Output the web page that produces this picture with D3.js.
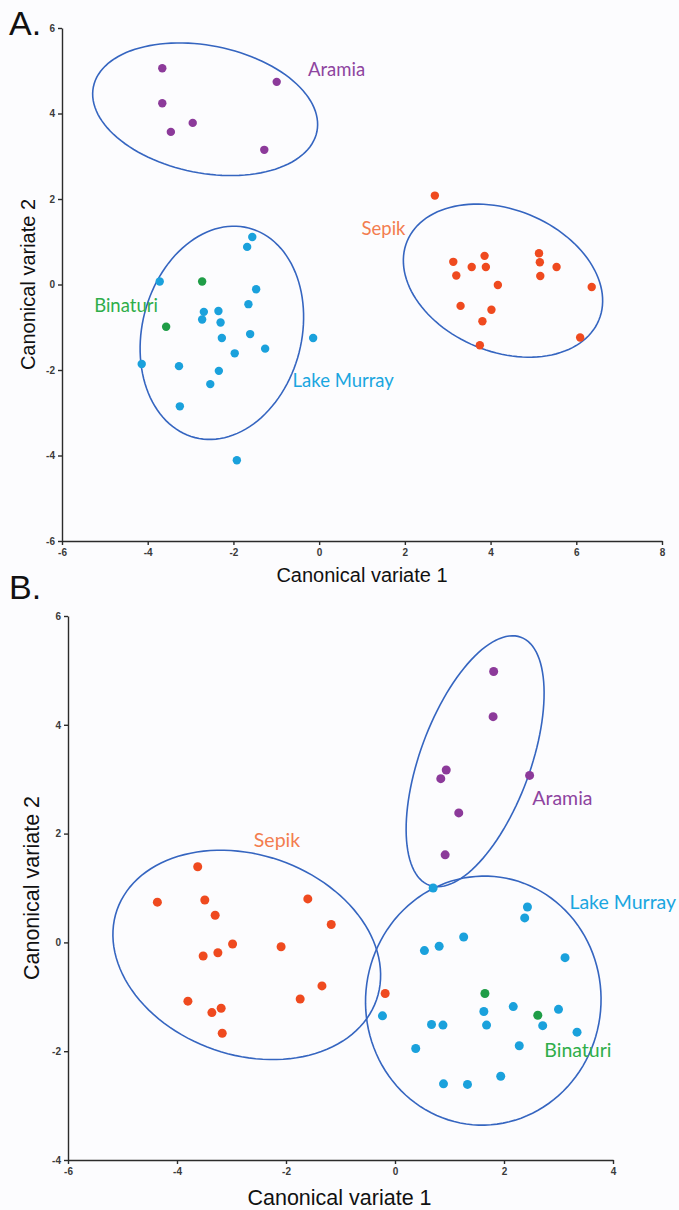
<!DOCTYPE html>
<html>
<head>
<meta charset="utf-8">
<script src="https://cdn.jsdelivr.net/npm/d3@7"></script>
<style>
  body { margin: 0; background: #fcfcfe; }
  .axis path, .axis line { stroke: #2b2b2b; stroke-width: 1.4; }
  .axis text { font-family: "Liberation Sans", Arial, sans-serif; font-size: 10px; font-weight: bold; fill: #3a3a3a; }
  .title { font-family: "Liberation Sans", Arial, sans-serif; fill: #111; }
  .group-label { font-family: Lato, "Open Sans", sans-serif; }
</style>
</head>
<body>
<div id="chart"></div>
<script>
// group colours
const groups = ['Aramia', 'Sepik', 'Lake Murray', 'Binaturi'];
const dotColors = ['#8c3a9a', '#ef4a1f', '#1aa1dc', '#1f9d47'];
const labelColors = ['#8e44a0', '#f37d4f', '#1aa6e0', '#2fae4a'];

// panel A scores (canonical variate 1, canonical variate 2)
const aramiaA = [[-3.66, 5.06], [-0.99, 4.74], [-3.66, 4.24], [-2.95, 3.78], [-3.46, 3.57], [-1.28, 3.15]];
const sepikA = [[2.70, 2.08], [3.13, 0.53], [3.20, 0.21], [3.56, 0.41], [3.86, 0.67], [3.89, 0.41],
  [4.17, -0.01], [5.13, 0.73], [5.15, 0.52], [5.16, 0.20], [5.54, 0.41], [6.36, -0.06],
  [3.30, -0.50], [4.02, -0.59], [3.81, -0.86], [3.75, -1.42], [6.09, -1.24]];
const lakeMurrayA = [[-1.56, 1.11], [-1.68, 0.88], [-3.72, 0.07], [-1.47, -0.11], [-1.65, -0.46],
  [-2.69, -0.64], [-2.35, -0.62], [-2.73, -0.82], [-2.30, -0.89], [-2.27, -1.25], [-1.61, -1.16],
  [-0.14, -1.25], [-1.26, -1.50], [-1.97, -1.61], [-4.14, -1.86], [-3.27, -1.91], [-2.34, -2.02],
  [-2.54, -2.33], [-3.25, -2.85], [-1.92, -4.11]];
const binaturiA = [[-2.73, 0.07], [-3.57, -0.99]];

// panel B scores
const aramiaB = [[1.81, 4.98], [1.80, 4.15], [0.94, 3.17], [0.84, 3.01], [2.47, 3.07], [1.17, 2.38], [0.92, 1.61]];
const sepikB = [[-4.36, 0.74], [-3.49, 0.78], [-3.30, 0.50], [-1.60, 0.80], [-1.17, 0.33], [-2.98, -0.03],
  [-3.52, -0.25], [-3.25, -0.19], [-2.09, -0.08], [-1.34, -0.80], [-1.74, -1.04], [-3.80, -1.08],
  [-3.36, -1.29], [-3.19, -1.21], [-3.17, -1.67], [-3.62, 1.39], [-0.18, -0.94]];
const lakeMurrayB = [[0.70, 1.00], [2.43, 0.65], [2.38, 0.45], [1.26, 0.10], [0.81, -0.07], [0.54, -0.15],
  [3.12, -0.28], [-0.23, -1.35], [1.63, -1.27], [2.17, -1.18], [3.00, -1.23], [0.67, -1.51],
  [0.88, -1.52], [1.68, -1.52], [2.71, -1.53], [3.34, -1.65], [0.38, -1.95], [2.28, -1.90],
  [1.94, -2.46], [0.89, -2.60], [1.33, -2.61]];
const binaturiB = [[1.65, -0.94], [2.62, -1.34]];

// confidence ellipses: centre x, centre y, semi-axis a, semi-axis b, rotation (deg)
const ellipsesA = [[-2.66, 4.10, 2.66, 1.49, -11.3], [4.29, 0.09, 2.42, 1.66, -22.4], [-2.27, -1.13, 2.53, 1.86, 75.7]];
const ellipsesB = [[1.47, 3.33, 2.43, 1.01, 69.8], [-2.72, -0.23, 2.52, 1.84, -19.1], [1.62, -1.07, 2.29, 2.16, 85]];

// group label anchors (data units)
const labelsA = [[-0.26, 4.88], [0.99, 1.16], [-0.62, -2.39], [-5.25, -0.65]];
const labelsB = [[2.52, 2.53], [-2.59, 1.76], [3.20, 0.61], [2.74, -2.10]];

const xTicksA = [-6, -4, -2, 0, 2, 4, 6, 8];
const yTicksA = [-6, -4, -2, 0, 2, 4, 6];
const xTicksB = [-6, -4, -2, 0, 2, 4];
const yTicksB = [-4, -2, 0, 2, 4, 6];

const width = 679;
const height = 1210;

const svg = d3.select('#chart')
  .append('svg')
  .attr('width', width)
  .attr('height', height);

function drawPanel(p) {
  const x = d3.scaleLinear().domain(d3.extent(p.xTicks)).range([p.left, p.right]);
  const y = d3.scaleLinear().domain(d3.extent(p.yTicks)).range([p.bottom, p.top]);
  const g = svg.append('g');
  const plain = (d) => String(d); // hyphen minus, like the original

  // axes
  g.append('g')
    .attr('class', 'axis')
    .attr('transform', `translate(0, ${p.bottom})`)
    .call(d3.axisBottom(x).tickValues(p.xTicks).tickFormat(plain).tickSize(4).tickSizeOuter(0).tickPadding(4));
  g.append('g')
    .attr('class', 'axis')
    .attr('transform', `translate(${p.left}, 0)`)
    .call(d3.axisLeft(y).tickValues(p.yTicks).tickFormat(plain).tickSize(4).tickSizeOuter(0).tickPadding(3));

  // ellipses
  const line = d3.line();
  const steps = d3.range(0, 361, 3).map((deg) => deg * Math.PI / 180);
  p.ellipses.forEach(([cx, cy, a, b, rot]) => {
    const r = rot * Math.PI / 180;
    const pts = steps.map((t) => {
      const ex = cx + a * Math.cos(r) * Math.cos(t) - b * Math.sin(r) * Math.sin(t);
      const ey = cy + a * Math.sin(r) * Math.cos(t) + b * Math.cos(r) * Math.sin(t);
      return [x(ex), y(ey)];
    });
    g.append('path')
      .attr('d', line(pts))
      .attr('fill', 'none')
      .attr('stroke', '#3565c0')
      .attr('stroke-width', 1.6);
  });

  // points
  p.series.forEach((pts, i) => {
    g.append('g')
      .selectAll('circle')
      .data(pts)
      .join('circle')
      .attr('cx', (d) => x(d[0]))
      .attr('cy', (d) => y(d[1]))
      .attr('r', p.r)
      .attr('fill', dotColors[i]);
  });

  // group names
  g.selectAll('text.group-label')
    .data(p.labels)
    .join('text')
    .attr('class', 'group-label')
    .attr('x', (d) => x(d[0]))
    .attr('y', (d) => y(d[1]))
    .attr('font-size', p.labelSize)
    .attr('fill', (d, i) => labelColors[i])
    .text((d, i) => groups[i]);

  // titles
  g.append('text')
    .attr('class', 'title')
    .attr('x', (p.left + p.right) / 2 + p.xTitleShift)
    .attr('y', p.bottom + p.xTitleGap)
    .attr('text-anchor', 'middle')
    .attr('font-size', p.titleSize)
    .text('Canonical variate 1');
  g.append('text')
    .attr('class', 'title')
    .attr('transform', `translate(${p.yTitleX}, ${(p.top + p.bottom) / 2}) rotate(-90)`)
    .attr('text-anchor', 'middle')
    .attr('font-size', p.titleSize)
    .text('Canonical variate 2');
  g.append('text')
    .attr('class', 'title')
    .attr('x', 9)
    .attr('y', p.letterY)
    .attr('font-size', 34)
    .text(p.letter);
}

drawPanel({
  letter: 'A.', letterY: 35,
  left: 62, right: 662, top: 28, bottom: 541,
  xTicks: xTicksA, yTicks: yTicksA,
  series: [aramiaA, sepikA, lakeMurrayA, binaturiA],
  ellipses: ellipsesA, labels: labelsA,
  r: 4.2, labelSize: 18.5, titleSize: 20,
  xTitleShift: 0, xTitleGap: 41, yTitleX: 35,
});

drawPanel({
  letter: 'B.', letterY: 599,
  left: 68, right: 613, top: 616, bottom: 1160,
  xTicks: xTicksB, yTicks: yTicksB,
  series: [aramiaB, sepikB, lakeMurrayB, binaturiB],
  ellipses: ellipsesB, labels: labelsB,
  r: 4.5, labelSize: 19.5, titleSize: 21.5,
  xTitleShift: -1, xTitleGap: 45, yTitleX: 39,
});
</script>
</body>
</html>
